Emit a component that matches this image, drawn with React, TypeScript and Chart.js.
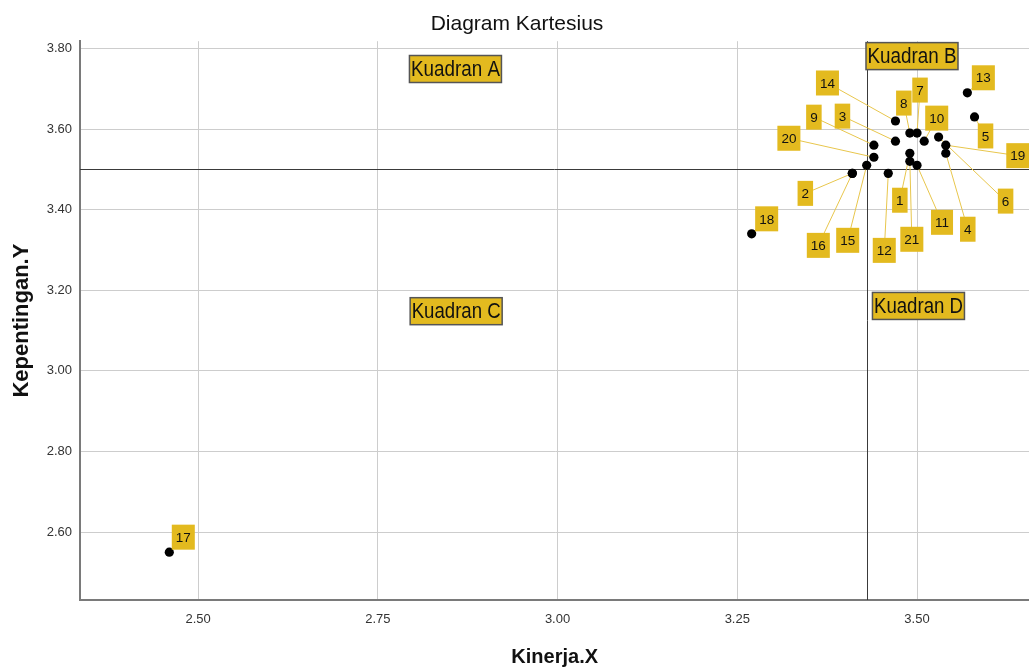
import React, { useEffect, useRef } from "react";
import { Chart, registerables } from "chart.js";

Chart.register(...registerables);

// ---- data ----
const pointIds = ["1", "2", "3", "4", "5", "6", "7", "8", "9", "10", "11", "12", "13", "14", "15", "16", "17", "18", "19", "20", "21"];
const kinerjaX = [3.49, 3.41, 3.47, 3.54, 3.58, 3.53, 3.5, 3.49, 3.44, 3.51, 3.5, 3.46, 3.57, 3.47, 3.43, 3.41, 2.46, 3.27, 3.54, 3.44, 3.49];
const kepentinganY = [3.54, 3.49, 3.57, 3.54, 3.63, 3.58, 3.59, 3.59, 3.56, 3.57, 3.51, 3.49, 3.69, 3.62, 3.51, 3.49, 2.55, 3.34, 3.56, 3.53, 3.52];
const xTicks = [2.5, 2.75, 3.0, 3.25, 3.5];
const yTicks = [2.6, 2.8, 3.0, 3.2, 3.4, 3.6, 3.8];
const meanX = 3.43;
const meanY = 3.5;
const quadrantNames = ["Kuadran A", "Kuadran B", "Kuadran C", "Kuadran D"];
const quadrantX = [2.858, 3.493, 2.859, 3.502];
const quadrantY = [3.749, 3.781, 3.148, 3.161];

// ---- label placement (pixel offsets from each point) ----
const labelDx = [-10, -47, -53, 22, 11, 67, 3, -6, -60, 12.5, 25, -4, 16, -68, -19, -34, 14, 15, 72, -85, 2];
const labelDy = [47, 20, -25, 76, 19, 64, -43, -30, -28, -23, 57, 77, -15, -38, 75, 72, -15, -15, 10.5, -19, 78];

const FONT = "Arial, 'Liberation Sans', sans-serif";
const GOLD = "#e3ba1f";

const overlayPlugin = {
  id: "overlay",
  beforeDatasetsDraw(chart: any) {
    const { ctx, chartArea: a, scales } = chart;
    const x = scales.x, y = scales.y;
    ctx.save();
    ctx.strokeStyle = "#3a3a3a";
    ctx.lineWidth = 1;
    const px = Math.round(x.getPixelForValue(meanX)) + 0.5;
    const py = Math.round(y.getPixelForValue(meanY)) + 0.5;
    ctx.beginPath();
    ctx.moveTo(a.left, py);
    ctx.lineTo(a.right, py);
    ctx.moveTo(px, a.top);
    ctx.lineTo(px, a.bottom);
    ctx.stroke();
    ctx.strokeStyle = "#e8c64c";
    ctx.lineWidth = 1;
    kinerjaX.forEach((v, i) => {
      const sx = x.getPixelForValue(v);
      const sy = y.getPixelForValue(kepentinganY[i]);
      ctx.beginPath();
      ctx.moveTo(sx, sy);
      ctx.lineTo(sx + labelDx[i], sy + labelDy[i]);
      ctx.stroke();
    });
    ctx.restore();
  },
  afterDatasetsDraw(chart: any) {
    const { ctx, scales } = chart;
    const x = scales.x, y = scales.y;
    ctx.save();
    ctx.textAlign = "center";
    ctx.textBaseline = "middle";
    // point labels
    ctx.font = `13.5px ${FONT}`;
    kinerjaX.forEach((v, i) => {
      const cx = x.getPixelForValue(v) + labelDx[i];
      const cy = y.getPixelForValue(kepentinganY[i]) + labelDy[i];
      const w = ctx.measureText(pointIds[i]).width + 8;
      const h = 25;
      ctx.fillStyle = GOLD;
      ctx.fillRect(cx - w / 2, cy - h / 2, w, h);
      ctx.fillStyle = "#111";
      ctx.fillText(pointIds[i], cx, cy + 1);
    });
    // quadrant labels
    quadrantNames.forEach((name, i) => {
      const cx = x.getPixelForValue(quadrantX[i]);
      const cy = y.getPixelForValue(quadrantY[i]);
      const w = 92, h = 27;
      ctx.fillStyle = GOLD;
      ctx.fillRect(cx - w / 2, cy - h / 2, w, h);
      ctx.strokeStyle = "#555";
      ctx.lineWidth = 1.5;
      ctx.strokeRect(cx - w / 2, cy - h / 2, w, h);
      ctx.font = `22px ${FONT}`;
      const tw = ctx.measureText(name).width;
      const sx = Math.min(1, 89 / tw);
      ctx.save();
      ctx.translate(cx, cy + 1);
      ctx.scale(sx, 1);
      ctx.fillStyle = "#111";
      ctx.fillText(name, 0, 0);
      ctx.restore();
    });
    ctx.restore();
  },
};

export default function App() {
  const ref = useRef<HTMLCanvasElement | null>(null);
  useEffect(() => {
    if (!ref.current) return;
    const chart = new Chart(ref.current, {
      type: "scatter",
      data: {
        datasets: [
          {
            data: kinerjaX.map((v, i) => ({ x: v, y: kepentinganY[i] })),
            backgroundColor: "#000",
            borderWidth: 0,
            pointRadius: 4.6,
            pointHoverRadius: 4.6,
          },
        ],
      },
      options: {
        animation: false,
        responsive: false,
        devicePixelRatio: 1,
        layout: { padding: 0 },
        plugins: {
          legend: { display: false },
          tooltip: { enabled: false },
          title: {
            display: true,
            text: "Diagram Kartesius",
            font: { size: 21, family: FONT, weight: "normal" },
            color: "#111",
            padding: { top: 12, bottom: 4 },
          },
        },
        scales: {
          x: {
            type: "linear",
            min: 2.3358,
            max: 3.6563,
            afterBuildTicks: (s: any) => {
              s.ticks = xTicks.map((v) => ({ value: v }));
            },
            afterFit: (s: any) => {
              s.height = 70;
            },
            ticks: {
              callback: (v: any) => Number(v).toFixed(2),
              font: { size: 13, family: FONT },
              color: "#333",
              padding: 12,
            },
            grid: { color: "#cdcdcd", drawTicks: false, lineWidth: 1 },
            border: { color: "#7a7a7a", width: 2 },
            title: {
              display: true,
              text: "Kinerja.X",
              font: { size: 20, family: FONT, weight: "bold" },
              color: "#111",
              padding: { top: 0, bottom: 1 },
            },
          },
          y: {
            type: "linear",
            min: 2.4313,
            max: 3.818,
            afterBuildTicks: (s: any) => {
              s.ticks = yTicks.map((v) => ({ value: v }));
            },
            afterFit: (s: any) => {
              s.width = 80;
            },
            ticks: {
              callback: (v: any) => Number(v).toFixed(2),
              font: { size: 13, family: FONT },
              color: "#333",
              padding: 8,
            },
            grid: { color: "#cdcdcd", drawTicks: false, lineWidth: 1 },
            border: { color: "#7a7a7a", width: 2 },
            title: {
              display: true,
              text: "Kepentingan.Y",
              font: { size: 22, family: FONT, weight: "bold" },
              color: "#111",
              padding: { top: 9, bottom: 0 },
            },
          },
        },
      },
      plugins: [overlayPlugin],
    } as any);
    return () => chart.destroy();
  }, []);
  return (
    <div style={{ position: "fixed", left: 0, top: 0, width: 1029, height: 670, overflow: "hidden", background: "#fff" }}>
      <canvas ref={ref} width={1034} height={670} style={{ display: "block" }} />
    </div>
  );
}
